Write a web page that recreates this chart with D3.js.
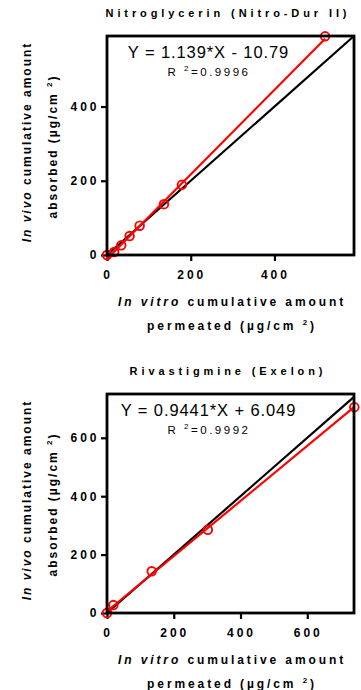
<!DOCTYPE html>
<html>
<head>
<meta charset="utf-8">
<script src="https://cdn.jsdelivr.net/npm/d3@7"></script>
<style>
  html, body { margin: 0; padding: 0; background: #fff; }
  svg { display: block; font-family: "Liberation Sans", Arial, sans-serif; }
</style>
</head>
<body>
<svg id="chart" width="361" height="690"></svg>
<script>
// Nitroglycerin (Nitro-Dur II): in vitro permeated vs in vivo absorbed
const nitroX = [0, 17, 34, 54, 78, 136, 179, 521];
const nitroY = [0, 8, 26, 51, 79, 137, 189, 589];
const nitroFit = [1.139, -10.79];          // slope, intercept
const nitroR2 = "0.9996";
const nitroTicks = [0, 200, 400];
const nitroMax = [590, 590];               // x max, y max

// Rivastigmine (Exelon)
const rivaX = [0, 19, 134, 302, 741];
const rivaY = [0, 27, 143, 285, 705];
const rivaFit = [0.9441, 6.049];
const rivaR2 = "0.9992";
const rivaXTicks = [0, 200, 400, 600];
const rivaYTicks = [0, 200, 400, 600];
const rivaMax = [740, 750];

const titles = ["Nitroglycerin (Nitro-Dur II)", "Rivastigmine (Exelon)"];
const equations = ["Y = 1.139*X - 10.79", "Y = 0.9441*X + 6.049"];

const svg = d3.select("#chart");
const RED = "#ff0000";
const FONT = "'Liberation Sans', Arial, sans-serif";

function sup(text, pre, post) {
  text.append("tspan").text(pre);
  text.append("tspan").attr("dy", -5).style("font-size", "8px").text("2");
  text.append("tspan").attr("dy", 5).text(post);
}

function panel(opts) {
  const { top, xs, ys, fit, r2, xTicks, yTicks, max, title, equation } = opts;
  const left = 107, right = 354, height = 219;
  const bottom = top + height;
  const x = d3.scaleLinear().domain([0, max[0]]).range([left, right]);
  const y = d3.scaleLinear().domain([0, max[1]]).range([bottom, top]);
  const g = svg.append("g");

  // title
  g.append("text")
    .attr("x", 228).attr("y", top - 19)
    .attr("text-anchor", "middle")
    .style("font-size", "11px").style("font-weight", "bold")
    .style("letter-spacing", "3.9px")
    .text(title);

  // axes (outward ticks, thick black)
  const xAxis = d3.axisBottom(x).tickValues(xTicks).tickSize(6).tickPadding(9.5).tickFormat(d3.format("d"));
  const yAxis = d3.axisLeft(y).tickValues(yTicks).tickSize(6).tickPadding(1.5).tickFormat(d3.format("d"));
  const ax = g.append("g").attr("transform", `translate(0,${bottom})`).call(xAxis);
  const ay = g.append("g").attr("transform", `translate(${left},0)`).call(yAxis);
  [ax, ay].forEach(a => {
    a.select(".domain").remove();
    a.selectAll(".tick line").attr("stroke", "#000").attr("stroke-width", 2.2);
    a.selectAll(".tick text")
      .attr("fill", "#000")
      .style("font-size", "12px").style("font-weight", "bold")
      .style("font-family", FONT)
      .style("letter-spacing", "3px");
  });
  ax.selectAll(".tick text").attr("dx", "0.5px");

  // identity line
  const m = Math.min(max[0], max[1]);
  g.append("line")
    .attr("x1", x(0)).attr("y1", y(0))
    .attr("x2", x(m)).attr("y2", y(m))
    .attr("stroke", "#000").attr("stroke-width", 2.2);

  // regression line over the data range
  const x0 = d3.min(xs), x1 = d3.max(xs);
  g.append("line")
    .attr("x1", x(x0)).attr("y1", y(fit[0] * x0 + fit[1]))
    .attr("x2", x(x1)).attr("y2", y(fit[0] * x1 + fit[1]))
    .attr("stroke", RED).attr("stroke-width", 2.2);

  // data points
  g.selectAll("circle.pt").data(xs.map((v, i) => [v, ys[i]])).join("circle")
    .attr("class", "pt")
    .attr("cx", d => x(d[0])).attr("cy", d => y(d[1]))
    .attr("r", 4.3)
    .attr("fill", "none").attr("stroke", RED).attr("stroke-width", 1.9);

  // frame
  g.append("rect")
    .attr("x", left).attr("y", top).attr("width", right - left).attr("height", height)
    .attr("fill", "none").attr("stroke", "#000").attr("stroke-width", 2.8);

  // fit annotation
  g.append("text")
    .attr("x", 208.5).attr("y", top + 22)
    .attr("text-anchor", "middle")
    .style("font-size", "16.5px").style("letter-spacing", "0.9px")
    .text(equation);
  const rt = g.append("text")
    .attr("x", 209).attr("y", top + 40)
    .attr("text-anchor", "middle")
    .style("font-size", "11.5px").style("letter-spacing", "2.5px");
  sup(rt, "R ", "=" + r2);

  // x axis title
  const cx = 232;
  const xt1 = g.append("text").attr("x", cx).attr("y", bottom + 51)
    .attr("text-anchor", "middle")
    .style("font-size", "12px").style("font-weight", "bold").style("letter-spacing", "2.9px");
  xt1.append("tspan").style("font-style", "italic").text("In vitro");
  xt1.append("tspan").text(" cumulative amount");
  const xt2 = g.append("text").attr("x", cx).attr("y", bottom + 75)
    .attr("text-anchor", "middle")
    .style("font-size", "12px").style("font-weight", "bold").style("letter-spacing", "2.9px");
  sup(xt2, "permeated (µg/cm ", ")");

  // y axis title
  const cy = (top + bottom) / 2;
  const yt1 = g.append("text")
    .attr("transform", `translate(31,${cy - 3.5}) rotate(-90)`)
    .attr("text-anchor", "middle")
    .style("font-size", "12px").style("font-weight", "bold").style("letter-spacing", "2px");
  yt1.append("tspan").style("font-style", "italic").text("In vivo");
  yt1.append("tspan").text(" cumulative amount");
  const yt2 = g.append("text")
    .attr("transform", `translate(57,${cy + 1}) rotate(-90)`)
    .attr("text-anchor", "middle")
    .style("font-size", "12px").style("font-weight", "bold").style("letter-spacing", "2px");
  sup(yt2, "absorbed (µg/cm ", ")");
}

panel({ top: 36, xs: nitroX, ys: nitroY, fit: nitroFit, r2: nitroR2,
        xTicks: nitroTicks, yTicks: nitroTicks, max: nitroMax,
        title: titles[0], equation: equations[0] });
panel({ top: 394, xs: rivaX, ys: rivaY, fit: rivaFit, r2: rivaR2,
        xTicks: rivaXTicks, yTicks: rivaYTicks, max: rivaMax,
        title: titles[1], equation: equations[1] });
</script>
</body>
</html>
